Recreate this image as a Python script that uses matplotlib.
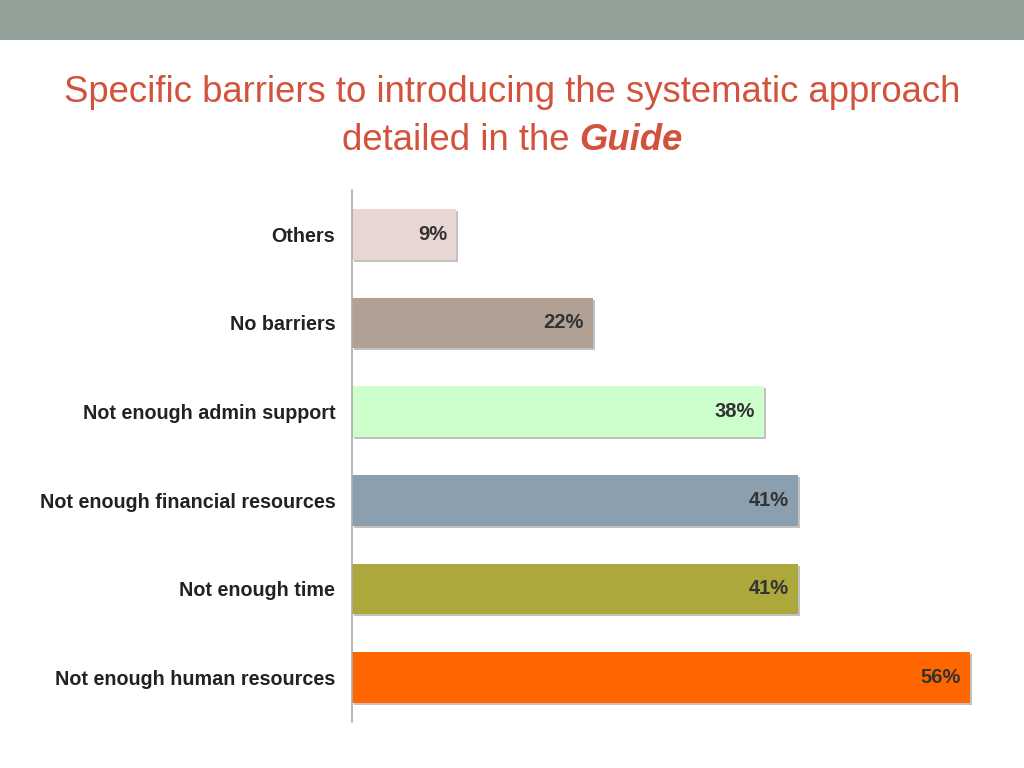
import matplotlib
matplotlib.use('Agg')
import matplotlib.pyplot as plt
import matplotlib.patheffects as pe
from matplotlib.patches import Rectangle

categories = ['Others', 'No barriers', 'Not enough admin support',
              'Not enough financial resources', 'Not enough time',
              'Not enough human resources']
# longueurs (les etiquettes sont arrondies)
values = [9.4, 21.8, 37.3, 40.4, 40.4, 56]
labels = ['9%', '22%', '38%', '41%', '41%', '56%']
colors = ['#E8D6D2', '#B1A094', '#CCFFCC', '#8C9FAF', '#ADA83C', '#FF6600']

title_color = '#D2523C'
title_font = ['Liberation Sans Narrow', 'Liberation Sans', 'DejaVu Sans']
body_font = ['Liberation Sans', 'DejaVu Sans']

fig = plt.figure(figsize=(10.24, 7.68), dpi=100)
fig.patch.set_facecolor('white')

# bande grise en haut
fig.add_artist(Rectangle((0, 1 - 40 / 768), 1, 40 / 768, transform=fig.transFigure,
                         facecolor='#93A299', edgecolor='none'))

# titre
fig.text(0.5, 1 - 92 / 768, 'Specific barriers to introducing the systematic approach',
         ha='center', va='center', fontsize=26.3, color=title_color, family=title_font)
t1 = fig.text(0, 1 - 140 / 768, 'detailed in the ', ha='left', va='center',
              fontsize=26.3, color=title_color, family=title_font)
t2 = fig.text(0, 1 - 140 / 768, 'Guide', ha='left', va='center', fontsize=26.3,
              color=title_color, family=title_font, fontweight='bold', fontstyle='italic')
fig.canvas.draw()
r = fig.canvas.get_renderer()
w1 = t1.get_window_extent(r).width
w2 = t2.get_window_extent(r).width
x0 = (1024 - (w1 + w2)) / 2
t1.set_x(x0 / 1024)
t2.set_x((x0 + w1) / 1024)

ax = fig.add_axes([352 / 1024, 1 - 722 / 768, 662 / 1024, 532 / 768])
y = list(range(len(categories)))
bars = ax.barh(y, values, height=0.57, color=colors, zorder=2)
for b in bars:
    b.set_path_effects([pe.SimplePatchShadow(offset=(1.5, -1.5), shadow_rgbFace='#777777', alpha=0.45),
                        pe.Normal()])

for yi, v, lab in zip(y, values, labels):
    ax.text(v - 0.8, yi, lab, ha='right', va='center', fontsize=14.5,
            fontweight='bold', color='#333333', family=body_font)

ax.set_xlim(0, 60)
ax.set_ylim(-0.5, 5.5)
ax.invert_yaxis()
ax.set_yticks(y)
ax.set_yticklabels(categories, fontsize=14.2, fontweight='bold', color='#222222',
                   family=body_font)
ax.tick_params(axis='y', length=0, pad=12)
ax.set_xticks([])
for s in ['top', 'right', 'bottom']:
    ax.spines[s].set_visible(False)
ax.spines['left'].set_color('#AAAAAA')
ax.spines['left'].set_linewidth(1.2)

fig.savefig('out.png', dpi=100)
